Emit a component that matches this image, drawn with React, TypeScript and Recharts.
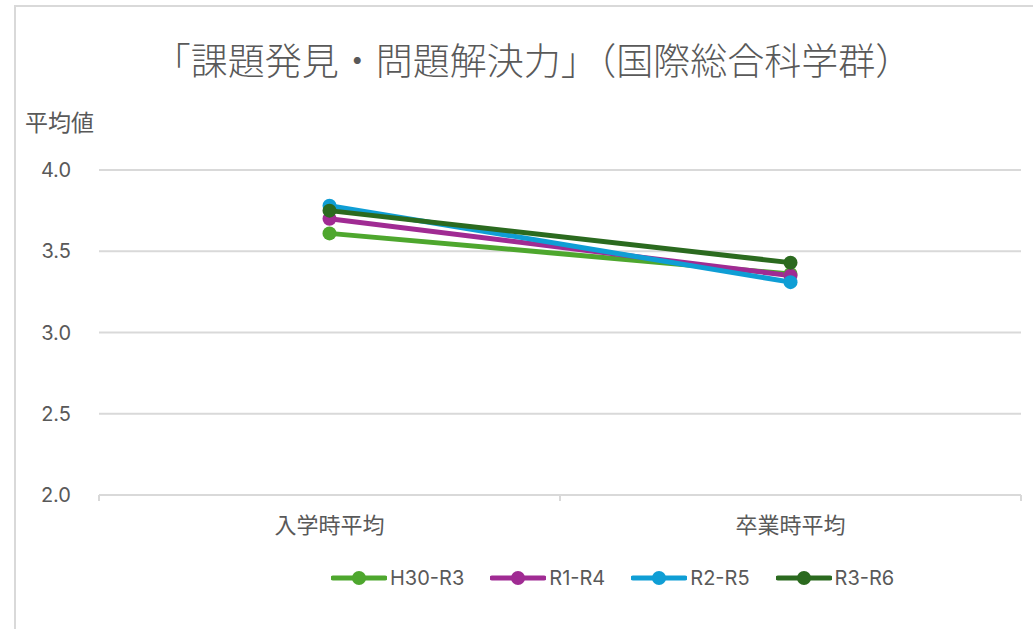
import React from 'react';
import { LineChart, Line, XAxis, YAxis, CartesianGrid } from 'recharts';

const categories = ['入学時平均', '卒業時平均'];
const h30r3 = [3.61, 3.36];
const r1r4 = [3.7, 3.35];
const r2r5 = [3.78, 3.31];
const r3r6 = [3.75, 3.43];
const yTicks = [2.0, 2.5, 3.0, 3.5, 4.0];

const series = [
  { key: 'H30-R3', values: h30r3, color: '#4EA72E' },
  { key: 'R1-R4', values: r1r4, color: '#A02B93' },
  { key: 'R2-R5', values: r2r5, color: '#0F9ED5' },
  { key: 'R3-R6', values: r3r6, color: '#2B6A1F' },
];

const data = categories.map((name, i) => {
  const row: Record<string, string | number> = { name };
  series.forEach(s => { row[s.key] = s.values[i]; });
  return row;
});

const W = 1033;
const H = 629;
const M = { top: 170, right: 12, bottom: 104, left: 39 };
const PLOT_W = W - M.left - M.right - 60;
const BAND = PLOT_W / categories.length;
const TEXT = '#595959';
const GRID = '#d9d9d9';
const FONT = '"Noto Sans CJK JP", "Noto Sans", sans-serif';

const CategoryTick = (props: any) => {
  const { x, y, payload } = props;
  return (
    <g>
      <line x1={x - BAND / 2} y1={y - 8} x2={x - BAND / 2} y2={y - 2} stroke={GRID} strokeWidth={2} />
      <line x1={x + BAND / 2} y1={y - 8} x2={x + BAND / 2} y2={y - 2} stroke={GRID} strokeWidth={2} />
      <text x={x} y={y + 30} textAnchor="middle" fill={TEXT} fontSize={22} fontFamily={FONT}>
        {payload.value}
      </text>
    </g>
  );
};

const LegendBox = () => (
  <div style={{ position: 'absolute', left: 331, top: 566, display: 'flex', alignItems: 'center', fontFamily: 'Inter, sans-serif', fontSize: 20, color: TEXT }}>
    {series.map(s => (
      <div key={s.key} style={{ display: 'flex', alignItems: 'center', marginRight: 26 }}>
        <svg width={56} height={16} style={{ marginRight: 3 }}>
          <line x1={2} y1={8} x2={54} y2={8} stroke={s.color} strokeWidth={5} strokeLinecap="round" />
          <circle cx={28} cy={8} r={7} fill={s.color} />
        </svg>
        <span>{s.key}</span>
      </div>
    ))}
  </div>
);

export default function App() {
  return (
    <div style={{ position: 'absolute', left: 0, top: 0, width: W, height: H, background: '#fff', overflow: 'hidden' }}>
      <div style={{ position: 'absolute', left: 14, top: 5, right: -2, bottom: -2, borderLeft: `2px solid ${GRID}`, borderTop: `2px solid ${GRID}` }} />
      <div style={{ position: 'absolute', left: 0, width: 1066, top: 32, textAlign: 'center', fontFamily: FONT, fontSize: 37, color: TEXT, fontWeight: 300 }}>
        「課題発見・問題解決力」（国際総合科学群）
      </div>
      <div style={{ position: 'absolute', left: 25, top: 104, fontFamily: FONT, fontSize: 23, color: TEXT }}>
        平均値
      </div>
      <LineChart width={W} height={H} data={data} margin={M}>
        <CartesianGrid horizontal vertical={false} stroke={GRID} strokeWidth={2} />
        <XAxis
          dataKey="name"
          scale="band"
          height={30}
          axisLine={{ stroke: GRID, strokeWidth: 2 }}
          tickLine={false}
          tick={<CategoryTick />}
          interval={0}
        />
        <YAxis
          domain={[2, 4]}
          ticks={yTicks}
          width={60}
          axisLine={false}
          tickLine={false}
          tickFormatter={(v: number) => v.toFixed(1)}
          tick={{ fill: TEXT, fontSize: 20, fontFamily: 'Inter, sans-serif' }}
          tickMargin={22}
        />
        {series.map(s => (
          <Line
            key={s.key}
            dataKey={s.key}
            stroke={s.color}
            strokeWidth={5}
            dot={{ r: 7, fill: s.color, stroke: s.color, strokeWidth: 0 }}
            activeDot={false}
            isAnimationActive={false}
          />
        ))}
      </LineChart>
      <LegendBox />
    </div>
  );
}
